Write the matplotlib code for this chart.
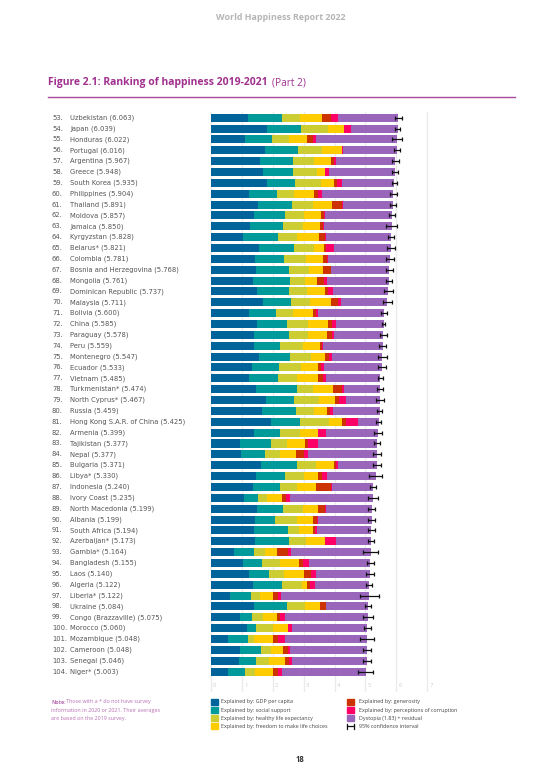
import numpy as np
import matplotlib
matplotlib.use("Agg")
import matplotlib.pyplot as plt
from matplotlib.patches import Rectangle
from matplotlib.lines import Line2D

plt.rcParams['font.family'] = ['Open Sans', 'DejaVu Sans']

ranks = list(range(53, 105))
names = ["Uzbekistan", "Japan", "Honduras", "Portugal", "Argentina", "Greece", "South Korea",
         "Philippines", "Thailand", "Moldova", "Jamaica", "Kyrgyzstan", "Belarus*", "Colombia",
         "Bosnia and Herzegovina", "Mongolia", "Dominican Republic", "Malaysia", "Bolivia", "China",
         "Paraguay", "Peru", "Montenegro", "Ecuador", "Vietnam", "Turkmenistan*", "North Cyprus*",
         "Russia", "Hong Kong S.A.R. of China", "Armenia", "Tajikistan", "Nepal", "Bulgaria", "Libya*",
         "Indonesia", "Ivory Coast", "North Macedonia", "Albania", "South Africa", "Azerbaijan*",
         "Gambia*", "Bangladesh", "Laos", "Algeria", "Liberia*", "Ukraine", "Congo (Brazzaville)",
         "Morocco", "Mozambique", "Cameroon", "Senegal", "Niger*"]
scores = [6.063, 6.039, 6.022, 6.016, 5.967, 5.948, 5.935, 5.904, 5.891, 5.857, 5.850, 5.828, 5.821,
          5.781, 5.768, 5.761, 5.737, 5.711, 5.600, 5.585, 5.578, 5.559, 5.547, 5.533, 5.485, 5.474,
          5.467, 5.459, 5.425, 5.399, 5.377, 5.377, 5.371, 5.330, 5.240, 5.235, 5.199, 5.199, 5.194,
          5.173, 5.164, 5.155, 5.140, 5.122, 5.122, 5.084, 5.075, 5.060, 5.048, 5.048, 5.046, 5.003]

gdp = [1.204, 1.817, 1.108, 1.753, 1.591, 1.688, 1.817, 1.237, 1.527, 1.398, 1.269, 1.043, 1.559,
       1.430, 1.462, 1.366, 1.495, 1.688, 1.237, 1.495, 1.398, 1.398, 1.559, 1.333, 1.237, 1.462,
       1.785, 1.656, 1.946, 1.398, 0.946, 0.978, 1.624, 1.462, 1.366, 1.075, 1.495, 1.430, 1.398,
       1.430, 0.753, 1.043, 1.237, 1.366, 0.624, 1.398, 0.946, 1.172, 0.559, 0.946, 0.914, 0.559]
social = [1.097, 1.097, 0.871, 1.065, 1.065, 0.968, 0.903, 0.903, 1.097, 1.000, 1.065, 1.129, 1.129,
          0.935, 1.065, 1.194, 1.032, 0.903, 0.871, 0.968, 1.129, 0.839, 1.000, 0.871, 0.935, 1.323,
          0.903, 1.097, 0.935, 0.839, 1.000, 0.774, 1.161, 0.935, 0.871, 0.452, 0.839, 0.645, 1.097,
          1.097, 0.645, 0.613, 0.645, 0.935, 0.677, 1.065, 0.387, 0.290, 0.645, 0.677, 0.548, 0.548]
health = [0.581, 0.871, 0.548, 0.774, 0.677, 0.774, 0.839, 0.548, 0.677, 0.613, 0.645, 0.613, 0.645,
          0.710, 0.645, 0.484, 0.581, 0.613, 0.548, 0.677, 0.613, 0.742, 0.677, 0.710, 0.613, 0.516,
          0.806, 0.581, 0.935, 0.645, 0.516, 0.484, 0.613, 0.613, 0.548, 0.290, 0.645, 0.710, 0.355,
          0.548, 0.355, 0.581, 0.484, 0.645, 0.290, 0.581, 0.355, 0.548, 0.194, 0.323, 0.419, 0.323]
freedom = [0.710, 0.516, 0.581, 0.645, 0.548, 0.258, 0.419, 0.645, 0.613, 0.548, 0.548, 0.710, 0.323,
           0.548, 0.452, 0.387, 0.581, 0.677, 0.645, 0.645, 0.613, 0.548, 0.452, 0.548, 0.677, 0.645,
           0.516, 0.419, 0.419, 0.581, 0.581, 0.516, 0.581, 0.452, 0.613, 0.484, 0.484, 0.516, 0.452,
           0.613, 0.387, 0.613, 0.645, 0.161, 0.419, 0.484, 0.452, 0.484, 0.613, 0.387, 0.516, 0.581]
generosity = [0.290, 0.007, 0.183, 0.020, 0.097, 0.000, 0.097, 0.129, 0.323, 0.097, 0.097, 0.194, 0.065,
              0.129, 0.258, 0.226, 0.097, 0.226, 0.097, 0.129, 0.161, 0.065, 0.129, 0.097, 0.161, 0.290,
              0.129, 0.097, 0.129, 0.000, 0.097, 0.258, 0.065, 0.129, 0.484, 0.129, 0.226, 0.129, 0.065,
              0.000, 0.355, 0.129, 0.226, 0.097, 0.161, 0.194, 0.097, 0.000, 0.161, 0.161, 0.129, 0.161]
corruption = [0.226, 0.215, 0.108, 0.030, 0.065, 0.129, 0.161, 0.129, 0.032, 0.032, 0.032, 0.032, 0.258,
              0.032, 0.005, 0.097, 0.161, 0.097, 0.065, 0.129, 0.065, 0.032, 0.097, 0.097, 0.097, 0.065,
              0.226, 0.097, 0.387, 0.258, 0.323, 0.129, 0.065, 0.161, 0.032, 0.129, 0.032, 0.032, 0.065,
              0.355, 0.097, 0.194, 0.161, 0.161, 0.097, 0.010, 0.161, 0.129, 0.226, 0.065, 0.097, 0.129]
dystopia = [1.955, 1.516, 2.623, 1.729, 1.924, 2.131, 1.699, 2.313, 1.622, 2.169, 2.194, 2.107, 1.842,
            1.997, 1.881, 2.007, 1.790, 1.507, 2.137, 1.542, 1.599, 1.935, 1.633, 1.877, 1.765, 1.173,
            1.102, 1.512, 0.674, 1.678, 1.914, 2.238, 1.262, 1.578, 1.326, 2.676, 1.478, 1.737, 1.762,
            1.130, 2.572, 1.982, 1.742, 1.757, 2.854, 1.352, 2.677, 2.437, 2.650, 2.489, 2.423, 2.702]
ci = [0.12, 0.08, 0.17, 0.10, 0.12, 0.10, 0.09, 0.10, 0.09, 0.10, 0.17, 0.10, 0.13, 0.13, 0.11, 0.09,
      0.15, 0.15, 0.11, 0.06, 0.12, 0.12, 0.14, 0.14, 0.08, 0.10, 0.13, 0.08, 0.09, 0.13, 0.10, 0.13,
      0.12, 0.21, 0.10, 0.16, 0.11, 0.12, 0.12, 0.10, 0.25, 0.12, 0.13, 0.10, 0.31, 0.10, 0.17, 0.12,
      0.24, 0.14, 0.13, 0.24]

parts = [gdp, social, health, freedom, generosity, corruption, dystopia]
labels = ["Explained by: GDP per capita", "Explained by: social support",
          "Explained by: healthy life expectancy", "Explained by: freedom to make life choices",
          "Explained by: generosity", "Explained by: perceptions of corruption",
          "Dystopia (1.83) + residual"]
colors = ['#00649b', '#009a9a', '#cccc33', '#ffcc00', '#cc3300', '#ff0066', '#9966bb']

W, H = 559, 772
fig = plt.figure(figsize=(W / 100, H / 100), dpi=100)

def fx(px):
    return px / W

def fy(py):
    return 1 - py / H

# axes: x=0 at 210.7px, 30.95 px per unit; rows at 117.7 + 10.86*i
unit = 30.95
x0 = 210.7
xmin, xmax = -0.05, 7.25
ax = fig.add_axes([fx(x0 + xmin * unit), fy(692), (xmax - xmin) * unit / W, (692 - 112) / H])
ymin, ymax = (112 - 117.7) / 10.86, (692 - 117.7) / 10.86
ax.set_xlim(xmin, xmax)
ax.set_ylim(ymax, ymin)

y = np.arange(len(names))
left = np.zeros(len(names))
for vals, c, lab in zip(parts, colors, labels):
    ax.barh(y, vals, left=left, height=0.74, color=c, label=lab, zorder=2)
    left += np.array(vals)

ax.errorbar(scores, y, xerr=ci, fmt='none', ecolor='#111111', elinewidth=0.9,
            capsize=1.6, capthick=0.9, zorder=3)

ax.set_xticks(range(8))
ax.grid(axis='x', color='#ebebeb', linewidth=1.0, zorder=0)
ax.set_yticks([])
ax.tick_params(axis='x', length=0, labelbottom=False)
for s in ax.spines.values():
    s.set_visible(False)
for i in range(8):
    ax.text(i + 0.08, (685.7 - 117.7) / 10.86, str(i), fontsize=4.3, color='#cfcfcf',
            ha='left', va='center')

# row labels
lab_font = ['DejaVu Sans']
for i, (r, n, sc) in enumerate(zip(ranks, names, scores)):
    ypx = 117.7 + 10.86 * i
    fig.text(fx(52), fy(ypx), f"{r}.", fontsize=4.9, color='#555555', ha='left', va='center',
             family=lab_font)
    fig.text(fx(70), fy(ypx), f"{n} ({sc:.3f})", fontsize=4.9, color='#555555', ha='left',
             va='center', family=lab_font)

# header and title
fig.text(fx(281), fy(17), "World Happiness Report 2022", fontsize=6.4, color='#b5b5b5',
         fontweight='bold', ha='center', va='center')
fig.text(fx(48), fy(83), "Figure 2.1: Ranking of happiness 2019-2021", fontsize=7.5,
         color='#a0318f', fontweight='bold', ha='left', va='center')
fig.text(fx(272), fy(83), "(Part 2)", fontsize=7.3, color='#a0318f', ha='left', va='center')
fig.add_artist(Line2D([fx(48), fx(515)], [fy(96.7), fy(96.7)], color='#a84aa0', linewidth=1.0))

# legend (manual)
leg_rows = [702, 710.3, 718.3, 726.3]
for k in range(7):
    col = k // 4
    row = k % 4
    px = 211 if col == 0 else 347
    tx = 221 if col == 0 else 359
    fig.add_artist(Rectangle((fx(px), fy(leg_rows[row] + 3)), 7 / W, 6 / H,
                             color=colors[k], transform=fig.transFigure))
    fig.text(fx(tx), fy(leg_rows[row]), labels[k], fontsize=3.9, color='#444444',
             ha='left', va='center')
ey = fy(leg_rows[3])
fig.add_artist(Line2D([fx(347), fx(354)], [ey, ey], color='#111111', linewidth=0.9))
for xx in (347, 354):
    fig.add_artist(Line2D([fx(xx), fx(xx)], [fy(leg_rows[3] - 2.2), fy(leg_rows[3] + 2.2)],
                          color='#111111', linewidth=0.9))
fig.text(fx(359), fy(leg_rows[3]), "95% confidence interval", fontsize=3.9, color='#444444',
         ha='left', va='center')

# note
note_col = '#b870b4'
fig.text(fx(51), fy(702), "Note:", fontsize=3.9, color=note_col, fontweight='bold', ha='left', va='center')
fig.text(fx(66.5), fy(702), "Those with a * do not have survey", fontsize=3.9, color=note_col,
         ha='left', va='center')
fig.text(fx(51), fy(710.3), "information in 2020 or 2021. Their averages", fontsize=3.9, color=note_col,
         ha='left', va='center')
fig.text(fx(51), fy(718.3), "are based on the 2019 survey.", fontsize=3.9, color=note_col,
         ha='left', va='center')

fig.text(fx(300), fy(759), "18", fontsize=5.5, color='#333333', fontweight='bold', ha='center', va='center')

fig.savefig("out.png", dpi=100)
